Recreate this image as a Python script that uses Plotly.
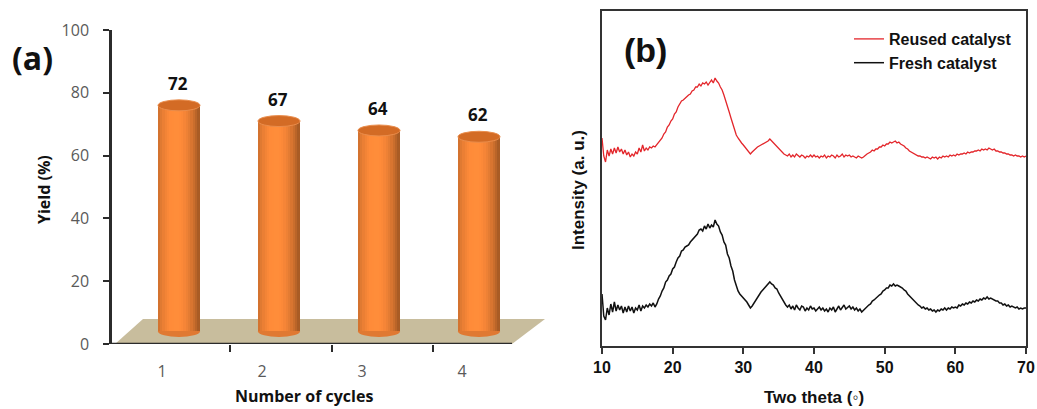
import plotly.graph_objects as go

W, H = 1037, 409

# ---------------- data ----------------
cycles = [1, 2, 3, 4]
cycle_labels = ["1", "2", "3", "4"]
yields = [72, 67, 64, 62]
yield_ticks = [0, 20, 40, 60, 80, 100]

two_theta = [10 + 0.25 * i for i in range(241)]
theta_ticks = [10, 20, 30, 40, 50, 60, 70]

# intensities (a.u.), one row per 5 degrees (0.25 degree step)
fresh = [
    52, 30, 26, 38, 31, 42, 34, 44, 35, 41, 36, 40, 33, 39, 34, 40, 35, 39, 33, 38,
    36, 41, 35, 40, 38, 41, 39, 42, 40, 43, 39, 42, 47, 50, 55, 58, 64, 66, 70, 72,
    77, 79, 84, 88, 90, 95, 96, 99, 100, 101, 104, 106, 108, 111, 112, 116, 117, 115, 120, 117,
    122, 118, 121, 119, 126, 122, 120, 114, 111, 104, 101, 92, 88, 80, 75, 66, 60, 55, 52, 50,
    48, 47, 44, 41, 38, 40, 43, 46, 49, 51, 54, 56, 58, 61, 62, 64, 62, 61, 58, 57,
    53, 50, 46, 43, 41, 39, 41, 37, 40, 36, 41, 38, 36, 40, 39, 35, 38, 36, 40, 37,
    38, 35, 37, 39, 36, 38, 35, 37, 34, 38, 36, 39, 34, 37, 40, 36, 38, 41, 37, 39,
    40, 37, 39, 36, 38, 35, 37, 34, 36, 38, 39, 41, 42, 45, 46, 48, 49, 51, 52, 55,
    56, 58, 58, 61, 60, 62, 60, 61, 60, 59, 58, 56, 55, 52, 50, 48, 46, 44, 42, 41,
    40, 38, 39, 37, 38, 36, 37, 35, 36, 34, 36, 35, 37, 36, 38, 36, 38, 37, 39, 38,
    39, 38, 41, 40, 42, 41, 43, 42, 44, 43, 45, 44, 46, 45, 47, 46, 48, 47, 49, 47,
    48, 47, 46, 45, 45, 43, 43, 41, 42, 40, 41, 39, 40, 39, 38, 39, 37, 38, 37, 38,
    38,
]
reused = [
    208, 190, 184, 196, 190, 197, 192, 198, 193, 199, 194, 197, 192, 196, 191, 194, 189, 192, 190, 194,
    192, 198, 194, 201, 195, 198, 196, 199, 198, 200, 199, 201, 203, 206, 208, 212, 214, 219, 221, 225,
    227, 232, 234, 239, 242, 245, 246, 248, 249, 251, 252, 255, 256, 259, 259, 262, 260, 263, 262, 264,
    261, 264, 266, 263, 268, 265, 263, 259, 256, 251, 246, 240, 234, 228, 222, 216, 211, 208, 205, 203,
    201, 199, 197, 194, 192, 194, 196, 197, 199, 200, 201, 202, 203, 204, 205, 207, 205, 203, 202, 200,
    198, 196, 194, 192, 191, 190, 192, 189, 191, 189, 192, 190, 189, 191, 190, 188, 190, 189, 191, 189,
    191, 189, 190, 188, 190, 189, 191, 188, 190, 189, 191, 190, 188, 191, 189, 190, 192, 189, 191, 190,
    191, 189, 190, 189, 188, 190, 189, 188, 189, 191, 192, 193, 194, 196, 195, 197, 197, 199, 199, 201,
    200, 202, 202, 204, 203, 204, 205, 203, 204, 202, 201, 200, 198, 197, 195, 194, 193, 192, 191, 190,
    190, 189, 189, 188, 189, 188, 187, 189, 188, 189, 187, 189, 188, 190, 189, 190, 189, 191, 190, 191,
    190, 192, 191, 192, 192, 193, 192, 194, 193, 194, 194, 195, 195, 196, 195, 197, 196, 197, 196, 198,
    197, 196, 197, 195, 195, 194, 194, 193, 193, 192, 192, 191, 191, 190, 191, 190, 190, 189, 190, 189,
    190,
]

# ---------------- styling constants ----------------
DX, DY = 0.17, 4.0      # pseudo-3D depth offset
BW = 0.42               # cylinder width (x units)
EH = 1.75               # half height of ellipses (y units)
NS = 18                 # shading slices

fig = go.Figure()

for k in range(NS):
    t = -1 + (2 * k + 1) / NS
    s = 0.64 + 0.40 * (1 - ((t + 0.15) / 1.15) ** 2)
    col = "rgb(%d,%d,%d)" % (min(255, int(250 * s)), min(255, int(136 * s)), min(255, int(56 * s)))
    fig.add_trace(go.Bar(
        x=[c + DX + t * BW / 2 for c in cycles], y=yields, base=DY,
        width=BW / NS * 1.2, marker=dict(color=col, line=dict(width=0)),
        xaxis="x", yaxis="y", showlegend=False, hoverinfo="skip"))

fig.add_trace(go.Scatter(x=two_theta, y=reused, mode="lines", name="Reused catalyst",
                         line=dict(color="#e3262b", width=1.3), xaxis="x2", yaxis="y2"))
fig.add_trace(go.Scatter(x=two_theta, y=fresh, mode="lines", name="Fresh catalyst",
                         line=dict(color="#111111", width=1.5), xaxis="x2", yaxis="y2"))

shapes = []
shapes.append(dict(type="path", xref="x", yref="y",
                   path="M 0.53,0 L 0.81,8 L 4.83,8 L 4.5,0 Z",
                   fillcolor="#c8bd9d", line=dict(width=0), layer="below"))
shapes.append(dict(type="line", xref="x", yref="y", x0=0.5, x1=4.5, y0=0, y1=0,
                   line=dict(color="#2b2b2b", width=2.5), layer="above"))
for c, v in zip(cycles, yields):
    cx = c + DX
    shapes.append(dict(type="circle", xref="x", yref="y", x0=cx - BW / 2, x1=cx + BW / 2,
                       y0=DY - EH, y1=DY + EH, fillcolor="#e07932", line=dict(width=0),
                       layer="below"))
    shapes.append(dict(type="circle", xref="x", yref="y", x0=cx - BW / 2, x1=cx + BW / 2,
                       y0=v + DY - EH, y1=v + DY + EH, fillcolor="#d36b25",
                       line=dict(color="#ea8d4c", width=1), layer="above"))

ann = []
for c, v in zip(cycles, yields):
    ann.append(dict(x=c + 0.155, y=v + DY + 7, xref="x", yref="y", text=str(v), showarrow=False,
                    font=dict(family="Open Sans", size=17, color="#111", weight="bold")))

def pa(x, y, text, size, family, angle=0, color="#111"):
    return dict(x=x / W, y=1 - y / H, xref="paper", yref="paper", text=text, showarrow=False,
                textangle=angle, xanchor="center", yanchor="middle",
                font=dict(family=family, size=size, color=color, weight="bold"))

ann += [
    pa(32, 57, "(a)", 32, "Open Sans"),
    pa(645, 50, "(b)", 34, "Liberation Sans, Arial"),
    pa(44, 190, "Yield (%)", 16, "Open Sans", -90),
    pa(304, 396, "Number of cycles", 16, "Open Sans"),
    pa(578, 190, "Intensity (a. u.)", 17, "Liberation Sans, Arial", -90),
    pa(814, 397, "Two theta (◦)", 17, "Liberation Sans, Arial"),
]

fig.update_layout(
    width=W, height=H, margin=dict(l=0, r=0, t=0, b=0, pad=0, autoexpand=False),
    paper_bgcolor="white", plot_bgcolor="white", barmode="overlay", bargap=0,
    shapes=shapes, annotations=ann,
    xaxis=dict(domain=[112 / W, 547 / W], range=[0.5, 4.85], anchor="y",
               tickvals=cycles, ticktext=cycle_labels, ticks="", showline=False,
               showgrid=False, zeroline=False, ticklabelstandoff=16, automargin=False,
               tickfont=dict(family="Open Sans", size=16, color="#5a5a5a"),
               minor=dict(tickvals=[1.68, 2.70, 3.71], ticks="outside", ticklen=7,
                          tickwidth=2, tickcolor="#2b2b2b", showgrid=False)),
    yaxis=dict(domain=[1 - 344 / H, 1 - 30 / H], range=[0, 100], anchor="x",
               tickvals=yield_ticks, ticks="outside", ticklen=6, tickwidth=2,
               tickcolor="#2b2b2b", showline=True, linecolor="#2b2b2b", linewidth=2.5,
               showgrid=False, zeroline=False, ticklabelstandoff=11, automargin=False,
               tickfont=dict(family="Open Sans", size=16, color="#5a5a5a")),
    xaxis2=dict(domain=[602 / W, 1026 / W], range=[10, 70], anchor="y2",
                tickvals=theta_ticks, ticks="outside", ticklen=6, tickwidth=2,
                tickcolor="#333", showline=True, mirror=True, linecolor="#333",
                linewidth=2, showgrid=False, zeroline=False, automargin=False,
                tickfont=dict(family="Liberation Sans, Arial", size=16, color="#111",
                              weight="bold")),
    yaxis2=dict(domain=[1 - 346 / H, 1 - 11 / H], range=[0, 335], anchor="x2",
                showticklabels=False, ticks="", showline=True, mirror=True,
                linecolor="#333", linewidth=2, showgrid=False, zeroline=False,
                automargin=False),
    legend=dict(x=849 / W, y=1 - 22 / H, xanchor="left", yanchor="top",
                bgcolor="rgba(0,0,0,0)", tracegroupgap=0,
                font=dict(family="Liberation Sans, Arial", size=16, color="#111",
                          weight="bold")),
    showlegend=True,
)

fig.write_html("out.html")
